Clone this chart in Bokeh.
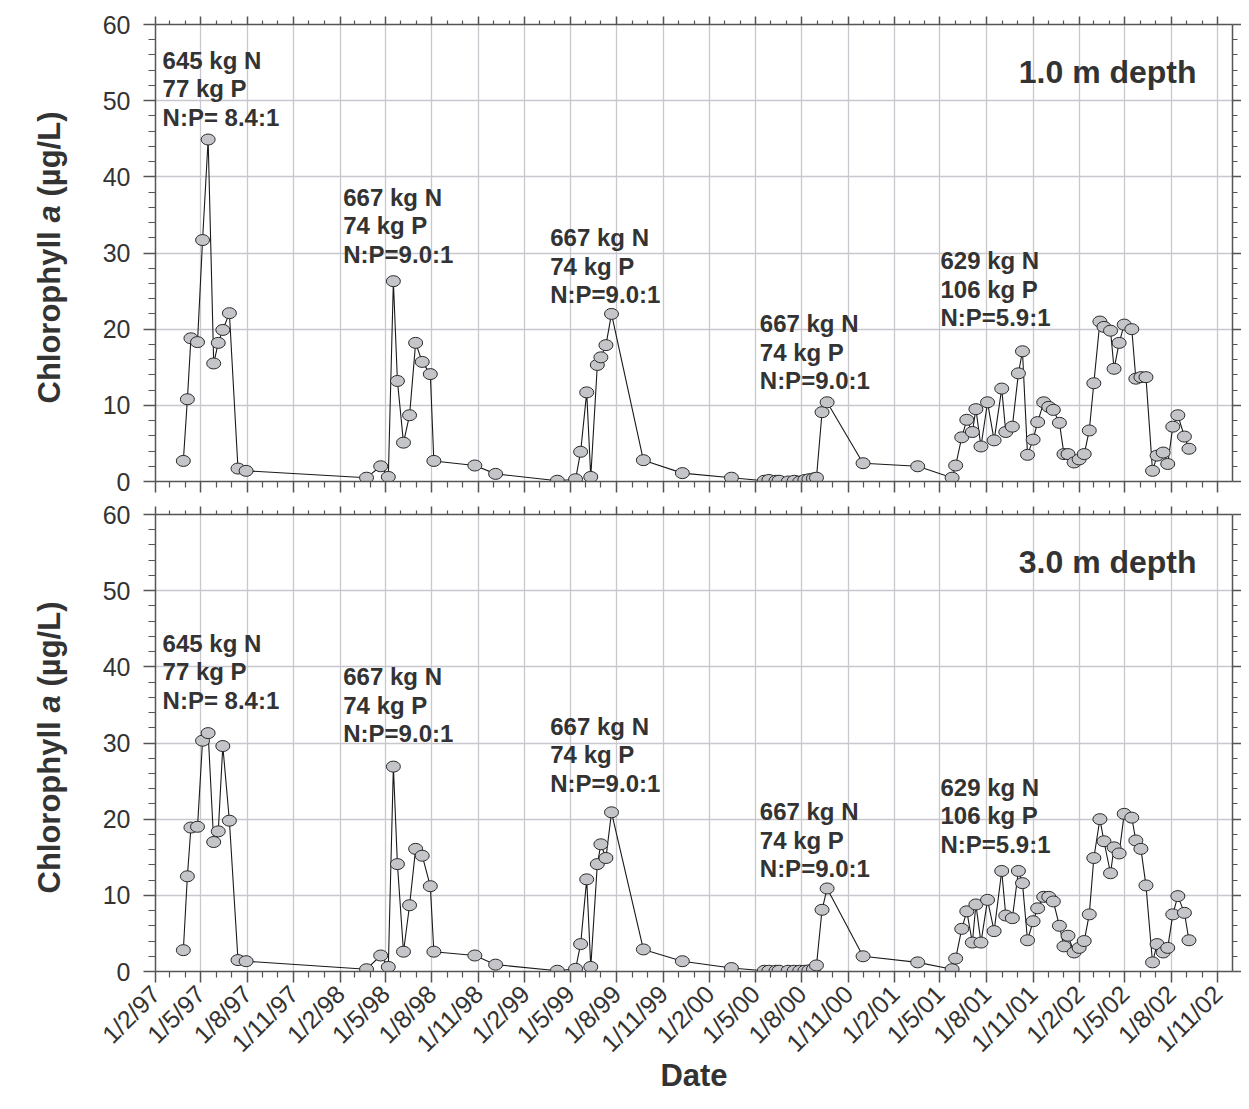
import math
import pandas as pd
from bokeh.plotting import figure
from bokeh.models import (ColumnDataSource, FixedTicker, LinearAxis, Label,
                          CustomJSTickFormatter, Range1d)
from bokeh.layouts import column, row
from bokeh.embed import file_html
from bokeh.resources import INLINE
from bokeh.core.properties import value

# ---------------- data ----------------
sample_dates = [
    "1997-03-28", "1997-04-05", "1997-04-12", "1997-04-25", "1997-05-05", "1997-05-16",
    "1997-05-27", "1997-06-05", "1997-06-14", "1997-06-27", "1997-07-14", "1997-07-30",
    "1998-03-25", "1998-04-22", "1998-05-07", "1998-05-17", "1998-05-25", "1998-06-06",
    "1998-06-18", "1998-06-30", "1998-07-13", "1998-07-29", "1998-08-05", "1998-10-25",
    "1998-12-05",
    "1999-04-06", "1999-05-12", "1999-05-22", "1999-06-03", "1999-06-11", "1999-06-24",
    "1999-07-01", "1999-07-11", "1999-07-22", "1999-09-23", "1999-12-09",
    "2000-03-15", "2000-05-19", "2000-05-28", "2000-06-11", "2000-06-17", "2000-07-05",
    "2000-07-17", "2000-07-28", "2000-08-07", "2000-08-15", "2000-08-24", "2000-08-30",
    "2000-09-10", "2000-09-20", "2000-11-30",
    "2001-03-18", "2001-05-25", "2001-06-01", "2001-06-13", "2001-06-23", "2001-07-04",
    "2001-07-11", "2001-07-21", "2001-08-03", "2001-08-16", "2001-08-31", "2001-09-08",
    "2001-09-21", "2001-10-03", "2001-10-11", "2001-10-21", "2001-11-01", "2001-11-10",
    "2001-11-22", "2001-12-02", "2001-12-11", "2001-12-23",
    "2002-01-01", "2002-01-09", "2002-01-21", "2002-01-31", "2002-02-10", "2002-02-20",
    "2002-03-01", "2002-03-13", "2002-03-21", "2002-04-03", "2002-04-10", "2002-04-20",
    "2002-04-30", "2002-05-15", "2002-05-23", "2002-06-02", "2002-06-12", "2002-06-25",
    "2002-07-04", "2002-07-16", "2002-07-25", "2002-08-04", "2002-08-14", "2002-08-27",
    "2002-09-05",
]

chl_1m = [
    2.7, 10.8, 18.8, 18.3, 31.7, 44.9, 15.5, 18.2, 19.9, 22.1, 1.7, 1.4,
    0.5, 2.0, 0.6, 26.3, 13.2, 5.1, 8.7, 18.2, 15.7, 14.1, 2.7, 2.1, 1.0,
    0.1, 0.3, 3.9, 11.7, 0.6, 15.3, 16.3, 17.9, 22.0, 2.8, 1.1,
    0.5, 0.1, 0.2, 0.1, 0.1, 0.0, 0.1, 0.0, 0.2, 0.3, 0.4, 0.5, 9.1, 10.4, 2.4,
    2.0, 0.5, 2.1, 5.8, 8.1, 6.5, 9.5, 4.6, 10.4, 5.4, 12.2, 6.5, 7.2, 14.2, 17.1,
    3.5, 5.5, 7.8, 10.4, 9.8, 9.4, 7.7,
    3.6, 3.6, 2.5, 2.9, 3.6, 6.7, 12.9, 21.0, 20.3, 19.8, 14.8, 18.2, 20.6, 20.0,
    13.5, 13.7, 13.7, 1.4, 3.4, 3.8, 2.3, 7.2, 8.7, 5.9, 4.3,
]

chl_3m = [
    2.8, 12.5, 18.9, 19.0, 30.3, 31.3, 17.0, 18.4, 29.6, 19.8, 1.5, 1.35,
    0.3, 2.1, 0.6, 26.9, 14.1, 2.6, 8.7, 16.1, 15.2, 11.2, 2.6, 2.1, 0.9,
    0.1, 0.35, 3.6, 12.1, 0.6, 14.1, 16.7, 14.9, 20.9, 2.9, 1.35,
    0.45, 0.1, 0.1, 0.1, 0.1, 0.1, 0.1, 0.1, 0.1, 0.15, 0.3, 0.8, 8.1, 10.9, 2.0,
    1.2, 0.3, 1.7, 5.6, 7.9, 3.8, 8.8, 3.8, 9.4, 5.3, 13.2, 7.35, 7.0, 13.2, 11.6,
    4.1, 6.6, 8.3, 9.8, 9.8, 9.2, 6.0,
    3.3, 4.7, 2.5, 3.1, 4.0, 7.5, 14.9, 20.0, 17.1, 12.9, 16.3, 15.5, 20.7, 20.2,
    17.2, 16.1, 11.3, 1.2, 3.6, 2.5, 3.1, 7.5, 9.9, 7.7, 4.1,
]

load_texts = [
    ["645 kg N", "77 kg P", "N:P= 8.4:1"],
    ["667 kg N", "74 kg P", "N:P=9.0:1"],
    ["667 kg N", "74 kg P", "N:P=9.0:1"],
    ["667 kg N", "74 kg P", "N:P=9.0:1"],
    ["629 kg N", "106 kg P", "N:P=5.9:1"],
]
load_dates = ["1997-02-15", "1998-02-07", "1999-03-23", "2000-05-10", "2001-05-02"]
load_y_1m = [55.3, 37.3, 32.0, 20.7, 29.0]
load_y_3m = [43.1, 38.7, 32.2, 21.0, 24.2]

depth_labels = ["1.0 m depth", "3.0 m depth"]
y_title = ["Chlorophyll", "a", "(µg/L)"]
x_title = "Date"
y_ticks = [0, 10, 20, 30, 40, 50, 60]
y_minor = [v for v in range(0, 61, 2) if v % 10]

FONT = "Liberation Sans"
TXT = "#333333"
AX = "#555555"
LAB_W = 80          # width of the strip that holds the y title
MAIN_W = 1161
FRAME_H = 457


def ms(d):
    return pd.Timestamp(d).value // 10**6


months = pd.date_range("1997-02-01", "2002-12-01", freq="MS")
major_ms = [ms(d) for d in months if d.month in (2, 5, 8, 11) and d <= pd.Timestamp("2002-11-01")]
minor_ms = [ms(d) for d in months if d.month not in (2, 5, 8, 11)]
x_start, x_end = ms("1997-02-01"), ms("2002-11-30")

date_fmt = CustomJSTickFormatter(code="""
const d = new Date(tick);
return d.getUTCDate() + "/" + (d.getUTCMonth() + 1) + "/" + String(d.getUTCFullYear()).slice(2);
""")
blank_fmt = CustomJSTickFormatter(code="return '';")


def style_axis(ax, tick_out, minor_out):
    ax.axis_line_color = AX
    ax.axis_line_width = 1.5
    ax.major_tick_line_color = AX
    ax.minor_tick_line_color = AX
    ax.major_tick_line_width = 1.5
    ax.minor_tick_line_width = 1.2
    ax.major_tick_in = 0
    ax.minor_tick_in = 0
    ax.major_tick_out = tick_out
    ax.minor_tick_out = minor_out


def title_strip(height):
    """Narrow figure holding the rotated y title (with italic 'a').
    Its frame is aligned with the panel's frame by the row layout."""
    s = figure(width=LAB_W, height=height, x_range=Range1d(0, LAB_W), y_range=Range1d(0, FRAME_H),
               output_backend="svg", toolbar_location=None,
               x_axis_location=None, y_axis_location=None,
               min_border_left=0, min_border_right=0, min_border_top=0, min_border_bottom=0)
    s.grid.visible = False
    s.outline_line_color = None
    s.background_fill_color = "white"
    s.border_fill_color = "white"
    offs = [78.0, 259.0, 285.0]
    styles = ["bold", "bold italic", "bold"]
    for txt, st, off in zip(y_title, styles, offs):
        s.text(x=[49], y=[off], text=[txt], angle=math.pi / 2,
               text_font=value(FONT), text_font_style=st, text_font_size="31px",
               text_color=TXT, text_align="left", text_baseline="alphabetic")
    return s


def panel(values, load_y, depth, height, btop, bbottom, show_dates):
    p = figure(width=MAIN_W, height=height, x_axis_type="datetime",
               x_range=Range1d(x_start, x_end), y_range=Range1d(0, 60),
               output_backend="svg", toolbar_location=None,
               min_border_left=155 - LAB_W, min_border_right=MAIN_W - (1232 - LAB_W),
               min_border_top=btop, min_border_bottom=bbottom)
    p.outline_line_color = None
    p.background_fill_color = "white"
    p.border_fill_color = "white"

    xt = FixedTicker(ticks=major_ms, minor_ticks=minor_ms)
    yt = FixedTicker(ticks=y_ticks, minor_ticks=y_minor)

    xa = p.xaxis[0]
    xa.ticker = xt
    style_axis(xa, 11, 6)
    if show_dates:
        xa.formatter = date_fmt
        xa.major_label_orientation = math.pi / 4
        xa.major_label_text_font = FONT
        xa.major_label_text_font_size = "25px"
        xa.major_label_text_color = TXT
        xa.major_label_standoff = 7
        xa.axis_label = x_title
        xa.axis_label_text_font = FONT
        xa.axis_label_text_font_style = "bold"
        xa.axis_label_text_font_size = "31px"
        xa.axis_label_text_color = TXT
        xa.axis_label_standoff = -12
    else:
        xa.formatter = blank_fmt
        xa.major_label_standoff = 0

    ya = p.yaxis[0]
    ya.ticker = yt
    style_axis(ya, 12, 7)
    ya.major_label_text_font = FONT
    ya.major_label_text_font_size = "25px"
    ya.major_label_text_color = TXT
    ya.major_label_standoff = 13

    top = LinearAxis(ticker=FixedTicker(ticks=major_ms, minor_ticks=minor_ms),
                     formatter=blank_fmt, major_label_standoff=0)
    style_axis(top, 8, 4)
    p.add_layout(top, "above")
    right = LinearAxis(ticker=FixedTicker(ticks=y_ticks, minor_ticks=y_minor),
                       formatter=blank_fmt, major_label_standoff=0)
    style_axis(right, 9, 5)
    p.add_layout(right, "right")

    p.xgrid.ticker = xt
    p.ygrid.ticker = yt
    for g in (p.xgrid[0], p.ygrid[0]):
        g.grid_line_color = "#c8c8ce"
        g.grid_line_width = 1.3

    src = ColumnDataSource(dict(t=pd.to_datetime(sample_dates), v=values))
    p.line("t", "v", source=src, line_color="#1a1a1a", line_width=1.1)
    p.ellipse("t", "v", width=14, height=11, width_units="screen", height_units="screen",
              source=src, fill_color="#c3c5c9", line_color="#2a2a2a", line_width=1)

    xs, ys, ts, offs = [], [], [], []
    for d, yv, lines in zip(load_dates, load_y, load_texts):
        for i, t in enumerate(lines):
            xs.append(pd.Timestamp(d))
            ys.append(yv)
            ts.append(t)
            offs.append(i * 28.5)
    p.text(x="x", y="y", text="t", y_offset="o",
           source=ColumnDataSource(dict(x=xs, y=ys, t=ts, o=offs)),
           text_font=value(FONT), text_font_style="bold", text_font_size="24px",
           text_color=TXT, text_align="left", text_baseline="alphabetic")

    p.add_layout(Label(x=pd.Timestamp("2002-09-20"), y=53.7, text=depth,
                       text_font=FONT, text_font_style="bold", text_font_size="32px",
                       text_color=TXT, text_align="right", text_baseline="alphabetic"))
    return p


H1, H2 = 497, 603
p1 = panel(chl_1m, load_y_1m, depth_labels[0], H1, 24, 16, False)
p2 = panel(chl_3m, load_y_3m, depth_labels[1], H2, 17, 129, True)
s1 = title_strip(H1)
s2 = title_strip(H2)
layout = column(row(s1, p1, spacing=0), row(s2, p2, spacing=0), spacing=0)

open("out.html", "w").write(file_html(layout, INLINE))
